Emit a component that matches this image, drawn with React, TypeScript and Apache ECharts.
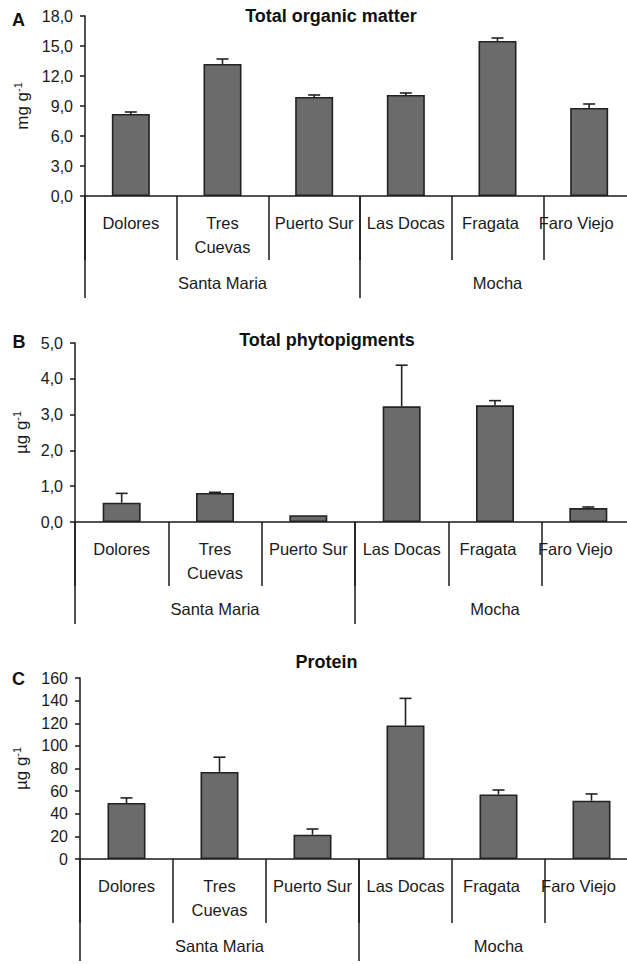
import React, { useEffect, useRef } from 'react';
import * as echarts from 'echarts';

const FONT = '"Liberation Sans", Arial, Helvetica, sans-serif';
const INK = '#1a1a1a';

// ---- data ----
const sites = ['Dolores', 'Tres\nCuevas', 'Puerto Sur', 'Las Docas', 'Fragata', 'Faro Viejo'];
const islands = ['Santa Maria', 'Mocha'];

const organicMatter = [8.2, 13.2, 9.9, 10.1, 15.5, 8.8];
const organicMatterErr = [0.2, 0.5, 0.2, 0.2, 0.3, 0.4];

const phytopigments = [0.54, 0.81, 0.19, 3.23, 3.26, 0.39];
const phytopigmentsErr = [0.26, 0.02, 0, 1.15, 0.13, 0.03];

const protein = [49.5, 77, 21.5, 118, 57, 51.5];
const proteinErr = [4.5, 13, 5, 24, 4, 6];

const yTicksA = { min: 0, max: 18, interval: 3 };
const yTicksB = { min: 0, max: 5, interval: 1 };
const yTicksC = { min: 0, max: 160, interval: 20 };

// ---- layout (not data) ----
const panels = [
  {
    letter: 'A', title: 'Total organic matter', unit: 'mg g', values: organicMatter, errors: organicMatterErr,
    ticks: yTicksA, decimals: 1,
    grid: { left: 85, top: 16, width: 550, height: 180 },
    titlePos: [331, 15.5], letterPos: [18.5, 20], nameGap: 52,
  },
  {
    letter: 'B', title: 'Total phytopigments', unit: '\u00B5g g', values: phytopigments, errors: phytopigmentsErr,
    ticks: yTicksB, decimals: 1,
    grid: { left: 75, top: 343, width: 560, height: 179 },
    titlePos: [327, 340], letterPos: [19, 341.5], nameGap: 44,
  },
  {
    letter: 'C', title: 'Protein', unit: '\u00B5g g', values: protein, errors: proteinErr,
    ticks: yTicksC, decimals: 0,
    grid: { left: 80, top: 678, width: 558, height: 181 },
    titlePos: [326.5, 661.5], letterPos: [18.5, 679], nameGap: 46,
  },
];

const labelShift: Record<string, number> = { 'Fragata': 14, 'Faro Viejo': 26 };

export default function App() {
  const ref = useRef<HTMLDivElement>(null);

  useEffect(() => {
    if (!ref.current) return;
    const chart = echarts.init(ref.current, undefined, { renderer: 'svg' });

    const grids: any[] = [];
    const xAxes: any[] = [];
    const yAxes: any[] = [];
    const series: any[] = [];
    const graphics: any[] = [];

    panels.forEach((p, i) => {
      grids.push({ ...p.grid, containLabel: false, outerBoundsMode: 'none' });
      xAxes.push({
        type: 'category',
        gridIndex: i,
        position: 'bottom',
        data: sites.map((s) =>
          labelShift[s] ? { value: s, textStyle: { padding: [0, labelShift[s], 0, 0] } } : s
        ),
        axisLine: { show: true, lineStyle: { color: INK, width: 1.5 } },
        axisTick: { show: true, interval: 0, length: 64, lineStyle: { color: INK, width: 1.5 } },
        axisLabel: {
          interval: 0, margin: 15, fontSize: 16.5, lineHeight: 24, color: INK, fontFamily: FONT,
        },
        splitLine: { show: false },
      });
      xAxes.push({
        type: 'category',
        gridIndex: i,
        position: 'bottom',
        data: islands,
        axisLine: { show: false },
        axisTick: { show: true, interval: 0, length: 102, lineStyle: { color: INK, width: 1.5 } },
        axisLabel: { interval: 0, margin: 75, fontSize: 16.5, lineHeight: 24, color: INK, fontFamily: FONT },
        splitLine: { show: false },
      });
      yAxes.push({
        type: 'value',
        gridIndex: i,
        min: p.ticks.min,
        max: p.ticks.max,
        interval: p.ticks.interval,
        name: `{a|${p.unit}}{b|-1}`,
        nameLocation: 'middle',
        nameRotate: 90,
        nameGap: p.nameGap,
        nameTextStyle: {
          color: INK,
          rich: {
            a: { fontSize: 17, lineHeight: 20, fontFamily: FONT, color: INK },
            b: { fontSize: 11, lineHeight: 10, verticalAlign: 'top', fontFamily: FONT, color: INK },
          },
        },
        axisLine: { show: true, lineStyle: { color: INK, width: 1.5 } },
        axisTick: { show: true, length: 5, inside: false, lineStyle: { color: INK, width: 1.5 } },
        axisLabel: {
          margin: 12, fontSize: 16, color: INK, fontFamily: FONT,
          formatter: (v: number) => (p.decimals ? v.toFixed(p.decimals).replace('.', ',') : String(v)),
        },
        splitLine: { show: false },
      });
      series.push({
        type: 'bar',
        xAxisIndex: i * 2,
        yAxisIndex: i,
        data: p.values,
        barWidth: 38,
        itemStyle: { color: '#6b6b6b', borderColor: '#222', borderWidth: 1.6 },
        z: 2,
      });
      series.push({
        type: 'custom',
        xAxisIndex: i * 2,
        yAxisIndex: i,
        data: p.values.map((v, k) => [k, v, p.errors[k]]),
        encode: { x: 0, y: 1 },
        z: 1,
        renderItem: (_params: any, api: any) => {
          const idx = api.value(0);
          const v = api.value(1);
          const e = api.value(2);
          if (!e) return null;
          const base = api.coord([idx, v]);
          const top = api.coord([idx, v + e]);
          const half = 6;
          const st = { stroke: '#222', lineWidth: 1.6 };
          return {
            type: 'group',
            children: [
              { type: 'line', shape: { x1: base[0], y1: base[1], x2: top[0], y2: top[1] }, style: st },
              { type: 'line', shape: { x1: top[0] - half, y1: top[1], x2: top[0] + half, y2: top[1] }, style: st },
            ],
          };
        },
      });
      graphics.push({
        type: 'text', x: p.titlePos[0], y: p.titlePos[1],
        style: { text: p.title, fontSize: 18, fontWeight: 'bold', fontFamily: FONT, fill: '#111', textAlign: 'center', textVerticalAlign: 'middle' },
      });
      graphics.push({
        type: 'text', x: p.letterPos[0], y: p.letterPos[1],
        style: { text: p.letter, fontSize: 18, fontWeight: 'bold', fontFamily: FONT, fill: '#111', textAlign: 'center', textVerticalAlign: 'middle' },
      });
    });

    chart.setOption({
      animation: false,
      backgroundColor: '#ffffff',
      grid: grids,
      xAxis: xAxes,
      yAxis: yAxes,
      series,
      graphic: graphics,
    });

    return () => chart.dispose();
  }, []);

  return (
    <div
      ref={ref}
      style={{ position: 'fixed', left: 0, top: 0, width: 627, height: 964, background: '#fff' }}
    />
  );
}
